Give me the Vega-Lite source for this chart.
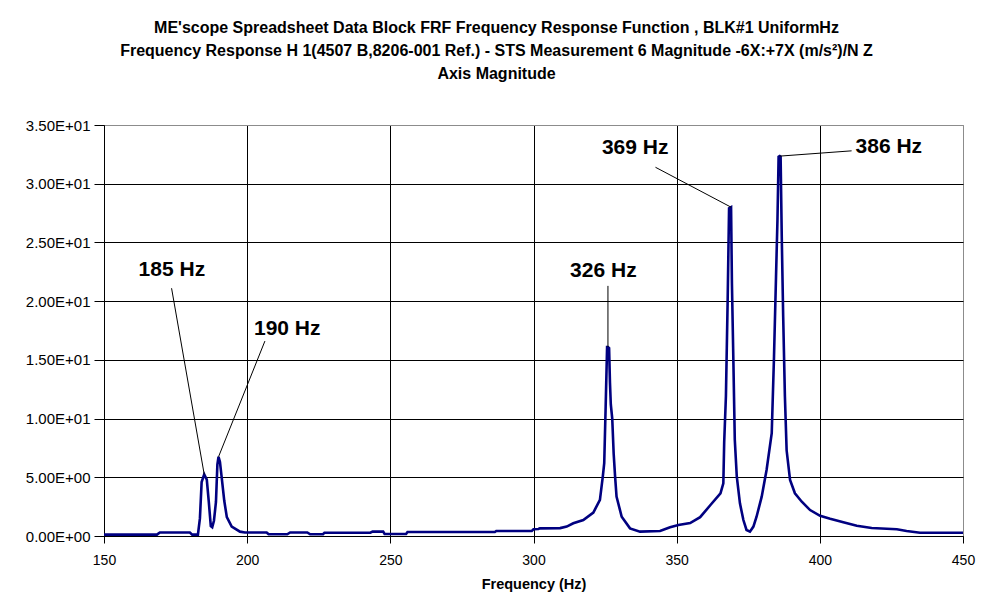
{
  "$schema": "https://vega.github.io/schema/vega-lite/v6.json",
  "width": 859,
  "height": 411,
  "autosize": {"type": "none"},
  "padding": {"left": 104, "top": 125, "right": 21, "bottom": 77},
  "background": "white",
  "title": {
    "text": [
      "ME'scope Spreadsheet Data Block FRF Frequency Response Function , BLK#1 UniformHz",
      "Frequency Response H 1(4507 B,8206-001 Ref.) - STS Measurement 6 Magnitude -6X:+7X (m/s²)/N Z",
      "Axis Magnitude"
    ],
    "font": "Liberation Sans",
    "fontSize": 16,
    "fontWeight": "bold",
    "color": "#000000",
    "anchor": "middle",
    "lineHeight": 23,
    "offset": 36,
    "dx": -37
  },
  "config": {
    "view": {"stroke": "#8c8c8c", "strokeWidth": 1},
    "axis": {
      "labelFont": "Liberation Sans",
      "labelColor": "#000000",
      "titleFont": "Liberation Sans",
      "titleColor": "#000000",
      "domainColor": "#000000",
      "tickColor": "#000000",
      "gridWidth": 1,
      "labelOverlap": false,
      "labelFlush": false
    }
  },
  "encoding": {
    "x": {
      "field": "frequency",
      "type": "quantitative",
      "scale": {"domain": [150, 450], "nice": false, "zero": false},
      "axis": {
        "values": [150, 200, 250, 300, 350, 400, 450],
        "format": "d",
        "title": "Frequency (Hz)",
        "titleFontSize": 14.5,
        "titleFontWeight": "bold",
        "titlePadding": 10,
        "labelFontSize": 14,
        "labelPadding": 10,
        "tickSize": 7,
        "grid": true,
        "gridColor": {"condition": {"test": "datum.value === 450", "value": "#8c8c8c"}, "value": "#000000"}
      }
    },
    "y": {
      "field": "magnitude",
      "type": "quantitative",
      "scale": {"domain": [0, 35], "nice": false},
      "axis": {
        "values": [0, 5, 10, 15, 20, 25, 30, 35],
        "labelExpr": "datum.value >= 10 ? format(datum.value / 10, '.2f') + 'E+01' : format(datum.value, '.2f') + 'E+00'",
        "title": null,
        "labelFontSize": 15,
        "labelPadding": 4,
        "tickSize": 10,
        "grid": true,
        "gridColor": {"condition": {"test": "datum.value === 35", "value": "#8c8c8c"}, "value": "#000000"}
      }
    }
  },
  "layer": [
    {
      "data": {
        "values": [
          {"frequency": 150, "magnitude": 0.12},
          {"frequency": 168.5, "magnitude": 0.12},
          {"frequency": 169.5, "magnitude": 0.3},
          {"frequency": 180, "magnitude": 0.3},
          {"frequency": 180.8, "magnitude": 0.12},
          {"frequency": 182.8, "magnitude": 0.12},
          {"frequency": 183.5, "magnitude": 1.5},
          {"frequency": 184.1, "magnitude": 4.6},
          {"frequency": 185, "magnitude": 5.25},
          {"frequency": 185.9, "magnitude": 4.8},
          {"frequency": 186.6, "magnitude": 2.9},
          {"frequency": 187.3, "magnitude": 0.85},
          {"frequency": 187.8, "magnitude": 0.75},
          {"frequency": 188.4, "magnitude": 1.3},
          {"frequency": 189.1, "magnitude": 2.9},
          {"frequency": 189.6, "magnitude": 6.1},
          {"frequency": 190, "magnitude": 6.75},
          {"frequency": 190.5, "magnitude": 6.3},
          {"frequency": 191.1, "magnitude": 5.0},
          {"frequency": 192, "magnitude": 3.0},
          {"frequency": 192.9, "magnitude": 1.6},
          {"frequency": 194.6, "magnitude": 0.8},
          {"frequency": 197.5, "magnitude": 0.37},
          {"frequency": 199.2, "magnitude": 0.3},
          {"frequency": 206.8, "magnitude": 0.3},
          {"frequency": 207.5, "magnitude": 0.15},
          {"frequency": 214, "magnitude": 0.15},
          {"frequency": 215, "magnitude": 0.3},
          {"frequency": 221, "magnitude": 0.3},
          {"frequency": 222, "magnitude": 0.15},
          {"frequency": 226.5, "magnitude": 0.15},
          {"frequency": 227, "magnitude": 0.28},
          {"frequency": 243, "magnitude": 0.28},
          {"frequency": 243.8, "magnitude": 0.37},
          {"frequency": 247.5, "magnitude": 0.37},
          {"frequency": 248, "magnitude": 0.17},
          {"frequency": 255.5, "magnitude": 0.17},
          {"frequency": 256, "magnitude": 0.34},
          {"frequency": 286.5, "magnitude": 0.34},
          {"frequency": 287, "magnitude": 0.43},
          {"frequency": 299.4, "magnitude": 0.43},
          {"frequency": 300, "magnitude": 0.57},
          {"frequency": 301.7, "magnitude": 0.6},
          {"frequency": 302.2, "magnitude": 0.65},
          {"frequency": 309.3, "magnitude": 0.67},
          {"frequency": 311.6, "magnitude": 0.8},
          {"frequency": 313.9, "magnitude": 1.08},
          {"frequency": 317.4, "magnitude": 1.36},
          {"frequency": 320.9, "magnitude": 2.0},
          {"frequency": 323.2, "magnitude": 3.07},
          {"frequency": 324.2, "magnitude": 5.05},
          {"frequency": 324.7, "magnitude": 6.2},
          {"frequency": 325.2, "magnitude": 11.0},
          {"frequency": 325.7, "magnitude": 16.1},
          {"frequency": 326, "magnitude": 16.1},
          {"frequency": 326.4, "magnitude": 16.0},
          {"frequency": 326.7, "magnitude": 13.1},
          {"frequency": 327, "magnitude": 11.2},
          {"frequency": 327.5, "magnitude": 10.0},
          {"frequency": 328, "magnitude": 7.0},
          {"frequency": 328.5, "magnitude": 5.05},
          {"frequency": 329, "magnitude": 3.35},
          {"frequency": 330.8, "magnitude": 1.64},
          {"frequency": 333.7, "magnitude": 0.65},
          {"frequency": 337.2, "magnitude": 0.37},
          {"frequency": 344.2, "magnitude": 0.43},
          {"frequency": 347.7, "magnitude": 0.74},
          {"frequency": 350.6, "magnitude": 0.94},
          {"frequency": 354.7, "magnitude": 1.1},
          {"frequency": 358.2, "magnitude": 1.6},
          {"frequency": 361.8, "magnitude": 2.64},
          {"frequency": 365.3, "magnitude": 3.64},
          {"frequency": 366.3, "magnitude": 4.49},
          {"frequency": 366.6, "magnitude": 8.0},
          {"frequency": 367.2, "magnitude": 11.9},
          {"frequency": 367.8, "magnitude": 19.95},
          {"frequency": 368.3, "magnitude": 27.9},
          {"frequency": 369, "magnitude": 28.0},
          {"frequency": 369.3, "magnitude": 21.5},
          {"frequency": 369.8, "magnitude": 15.0},
          {"frequency": 370.3, "magnitude": 8.2},
          {"frequency": 371, "magnitude": 5.05},
          {"frequency": 372.1, "magnitude": 2.78},
          {"frequency": 373.3, "magnitude": 1.36},
          {"frequency": 374.4, "magnitude": 0.51},
          {"frequency": 375.6, "magnitude": 0.37},
          {"frequency": 376.8, "magnitude": 0.8},
          {"frequency": 377.9, "magnitude": 1.64},
          {"frequency": 379.7, "magnitude": 3.35},
          {"frequency": 381.4, "magnitude": 5.62},
          {"frequency": 383.2, "magnitude": 8.75},
          {"frequency": 384, "magnitude": 15.3},
          {"frequency": 384.7, "magnitude": 22.1},
          {"frequency": 385.2, "magnitude": 26.9},
          {"frequency": 385.6, "magnitude": 32.3},
          {"frequency": 386, "magnitude": 32.35},
          {"frequency": 386.3, "magnitude": 32.3},
          {"frequency": 386.7, "magnitude": 25.5},
          {"frequency": 387.2, "magnitude": 18.7},
          {"frequency": 387.8, "magnitude": 11.9},
          {"frequency": 388.4, "magnitude": 7.3},
          {"frequency": 389.6, "magnitude": 4.77},
          {"frequency": 391.3, "magnitude": 3.64},
          {"frequency": 393.7, "magnitude": 2.92},
          {"frequency": 396.6, "magnitude": 2.21},
          {"frequency": 400.1, "magnitude": 1.72},
          {"frequency": 403.6, "magnitude": 1.47},
          {"frequency": 408.2, "magnitude": 1.17},
          {"frequency": 412.9, "magnitude": 0.88},
          {"frequency": 418.1, "magnitude": 0.68},
          {"frequency": 426.9, "magnitude": 0.57},
          {"frequency": 430.3, "magnitude": 0.43},
          {"frequency": 435, "magnitude": 0.28},
          {"frequency": 450, "magnitude": 0.28}
        ]
      },
      "mark": {"type": "line", "color": "#000080", "strokeWidth": 2.6, "strokeJoin": "miter", "clip": true}
    },
    {
      "data": {
        "values": [
          {"frequency": 173.6, "magnitude": 21.1, "frequency2": 185, "magnitude2": 5.25},
          {"frequency": 206.2, "magnitude": 16.6, "frequency2": 190, "magnitude2": 6.75},
          {"frequency": 326, "magnitude": 21.3, "frequency2": 326, "magnitude2": 16.1},
          {"frequency": 342.6, "magnitude": 31.4, "frequency2": 369, "magnitude2": 28.0},
          {"frequency": 411.1, "magnitude": 32.8, "frequency2": 386, "magnitude2": 32.35}
        ]
      },
      "mark": {"type": "rule", "color": "#000000", "strokeWidth": 1},
      "encoding": {
        "x2": {"field": "frequency2"},
        "y2": {"field": "magnitude2"}
      }
    },
    {
      "data": {
        "values": [
          {"frequency": 173.7, "magnitude": 22.65, "label": "185 Hz"},
          {"frequency": 214.0, "magnitude": 17.6, "label": "190 Hz"},
          {"frequency": 324.4, "magnitude": 22.6, "label": "326 Hz"},
          {"frequency": 335.5, "magnitude": 33.0, "label": "369 Hz"},
          {"frequency": 424.1, "magnitude": 33.1, "label": "386 Hz"}
        ]
      },
      "mark": {
        "type": "text",
        "font": "Liberation Sans",
        "fontSize": 21,
        "fontWeight": "bold",
        "color": "#000000",
        "align": "center",
        "baseline": "middle"
      },
      "encoding": {
        "text": {"field": "label", "type": "nominal"}
      }
    }
  ]
}
